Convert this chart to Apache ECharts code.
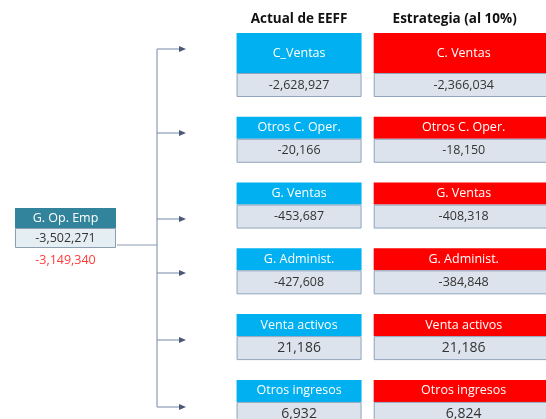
<!DOCTYPE html>
<html><head><meta charset="utf-8">
<script src="https://cdn.jsdelivr.net/npm/echarts@6/dist/echarts.min.js"></script>
<style>html,body{margin:0;padding:0;background:#fff}#c{width:546px;height:419px}</style>
</head><body><div id="c"></div>
<script>
// ---- data ----
const columns = ['Actual de EEFF', 'Estrategia (al 10%)'];
const actualLabels = ['C_Ventas', 'Otros C. Oper.', 'G. Ventas', 'G. Administ.', 'Venta activos', 'Otros ingresos'];
const strategyLabels = ['C. Ventas', 'Otros C. Oper.', 'G. Ventas', 'G. Administ.', 'Venta activos', 'Otros ingresos'];
const actualValues = [-2628927, -20166, -453687, -427608, 21186, 6932];
const strategyValues = [-2366034, -18150, -408318, -384848, 21186, 6824];
const totalLabel = 'G. Op. Emp';
const totalActual = -3502271;
const totalStrategy = -3149340;

const fmt = v => v.toLocaleString('en-US');
const items = [];
actualLabels.forEach((l, i) => items.push([0, i, l, actualValues[i]]));
strategyLabels.forEach((l, i) => items.push([1, i, l, strategyValues[i]]));

const FONT = 'Open Sans';
const chart = echarts.init(document.getElementById('c'));

// decorative connectors
const arrowY = [49, 133, 219, 273, 340, 407];
const lineCol = '#8a9bb3';
const graphics = [
  {type:'line', shape:{x1:157, y1:arrowY[0], x2:157, y2:arrowY[5]}, style:{stroke:lineCol, lineWidth:1.2}},
  {type:'line', shape:{x1:117, y1:245, x2:157, y2:245}, style:{stroke:lineCol, lineWidth:1.2}}
];
arrowY.forEach(y => {
  graphics.push({type:'line', shape:{x1:157, y1:y, x2:180, y2:y}, style:{stroke:lineCol, lineWidth:1.2}});
  graphics.push({type:'polygon', shape:{points:[[179,y-3],[186,y],[179,y+3]]}, style:{fill:'#4a5a75'}});
});
// total box
graphics.push({type:'rect', shape:{x:15, y:208, width:101, height:20}, style:{fill:'#31849b'}});
graphics.push({type:'text', x:65.5, y:218.5, style:{text:totalLabel, fill:'#fff', font:'12.5px ' + FONT, align:'center', verticalAlign:'middle'}});
graphics.push({type:'rect', shape:{x:15.5, y:228.5, width:100, height:19}, style:{fill:'#e4eef3', stroke:'#8c9fb0', lineWidth:1}});
graphics.push({type:'text', x:65.5, y:238.5, style:{text:fmt(totalActual), fill:'#333', font:'12.5px ' + FONT, align:'center', verticalAlign:'middle'}});
graphics.push({type:'text', x:65.5, y:260, style:{text:fmt(totalStrategy), fill:'#ff3b3b', font:'12.5px ' + FONT, align:'center', verticalAlign:'middle'}});

chart.setOption({
  animation:false,
  backgroundColor:'#fff',
  grid:{left:216.75, width:335, top:40.1, bottom:0},
  xAxis:{type:'category', data:columns, position:'top', axisLine:{show:false}, axisTick:{show:false},
    axisLabel:{interval:0, hideOverlap:false, margin:14, color:'#111', fontWeight:'bold', fontSize:13.5, fontFamily:FONT,
      formatter:(v, i) => i === 1 ? '{b|' + v + '}' : '{a|' + v + '}',
      rich:{a:{fontWeight:'bold', fontSize:13.5, fontFamily:FONT, color:'#111'},
            b:{fontWeight:'bold', fontSize:13.5, fontFamily:FONT, color:'#111', padding:[0,18,0,0]}}},
    splitLine:{show:false}},
  yAxis:{type:'value', min:-0.5, max:5.26, inverse:true, show:false},
  graphic:graphics,
  series:[{
    type:'custom',
    data:items,
    clip:false,
    renderItem:(params, api) => {
      const col = api.value(0), row = api.value(1);
      const d = items[params.dataIndex];
      const c = api.coord([col, row]);
      const w = col === 0 ? 125 : 180;
      const left = c[0] - w / 2;
      const hh = row === 0 ? 40 : 22;
      const top = c[1];
      const head = col === 0 ? '#00b0f0' : '#ff0000';
      const bold = d[3] > 0;
      return {type:'group', children:[
        {type:'rect', shape:{x:left, y:top - hh, width:w, height:hh}, style:{fill:head}},
        {type:'text', x:c[0], y:top - hh/2, style:{text:d[2], fill:'#fff', font:'12.5px ' + FONT, align:'center', verticalAlign:'middle'}},
        {type:'rect', shape:{x:left + 0.5, y:top + 0.5, width:w - 1, height:23}, style:{fill:'#dde3ec', stroke:'#8fa3bb', lineWidth:1}},
        {type:'text', x:c[0], y:top + 12, style:{text:fmt(d[3]), fill:'#333', font:(bold ? '14px ' : '12.5px ') + FONT, align:'center', verticalAlign:'middle'}}
      ]};
    }
  }]
});
</script></body></html>
